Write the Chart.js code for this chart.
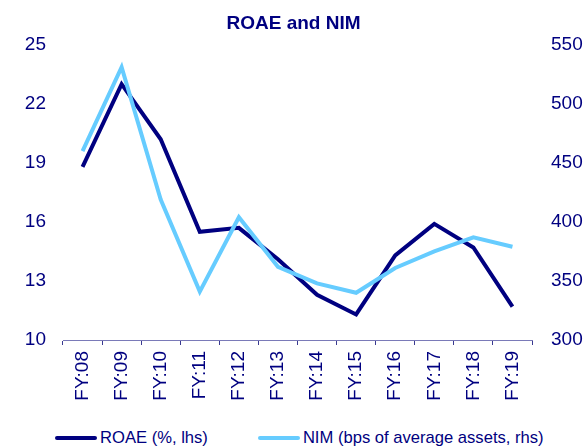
<!DOCTYPE html>
<html>
<head>
<meta charset="utf-8">
<script src="https://cdn.jsdelivr.net/npm/chart.js@4"></script>
<style>
  body { margin: 0; background: #fff; font-family: Arial, "Liberation Sans", sans-serif; }
  #wrap { position: relative; width: 587px; height: 422px; }
  #legend { position: absolute; top: 428px; left: 0; width: 587px; height: 20px;
            display: flex; align-items: center; padding-left: 55px; box-sizing: border-box;
            font-size: 16.6px; color: #000080; }
  .item { display: flex; align-items: center; }
  .swatch { width: 42px; height: 4px; margin-right: 3px; border-radius: 2px; }
</style>
</head>
<body>
<div id="wrap"><canvas id="chart"></canvas></div>
<div id="legend">
  <div class="item" style="margin-right:50px"><span class="swatch" style="background:#000080"></span><span>ROAE (%, lhs)</span></div>
  <div class="item"><span class="swatch" style="background:#66CCFF"></span><span>NIM (bps of average assets, rhs)</span></div>
</div>
<script>
const years = ["FY:08", "FY:09", "FY:10", "FY:11", "FY:12", "FY:13", "FY:14", "FY:15", "FY:16", "FY:17", "FY:18", "FY:19"]
const roae = [18.8, 23.0, 20.2, 15.5, 15.7, 14.1, 12.3, 11.3, 14.3, 15.9, 14.7, 11.7]
const nim = [460, 531, 419, 341, 404, 362, 348, 340, 361, 375, 387, 379]

const navy = "#000080"
const tickFont = { family: "Arial, 'Liberation Sans'", size: 19 }

const chart = new Chart(
    document.getElementById("chart"), {
    type: "line",
    data: {
        labels: years,
        datasets: [
            {
                label: "ROAE (%, lhs)",
                data: roae,
                yAxisID: "y",
                borderColor: navy,
                backgroundColor: navy,
                borderWidth: 4,
                pointRadius: 0,
                tension: 0,
                order: 2
            },
            {
                label: "NIM (bps of average assets, rhs)",
                data: nim,
                yAxisID: "y1",
                borderColor: "#66CCFF",
                backgroundColor: "#66CCFF",
                borderWidth: 4,
                pointRadius: 0,
                tension: 0,
                order: 1
            }
        ]
    },
    options: {
        responsive: true,
        maintainAspectRatio: false,
        animation: false,
        layout: { padding: 0 },
        plugins: {
            legend: { display: false },
            tooltip: { enabled: false },
            title: {
                display: true,
                text: "ROAE and NIM",
                color: navy,
                font: { family: "Arial, 'Liberation Sans'", size: 19, weight: "bold" },
                padding: { top: 12, bottom: 10 }
            }
        },
        scales: {
            x: {
                offset: true,
                grid: {
                    display: true,
                    drawOnChartArea: false,
                    offset: true,
                    tickLength: 5,
                    color: "#3a3a90"
                },
                border: { display: true, color: "#7a7ab8", width: 1 },
                ticks: {
                    color: navy,
                    font: tickFont,
                    minRotation: 90,
                    maxRotation: 90,
                    padding: 6,
                    autoSkip: false
                },
                afterFit: function (scale) { scale.height = 82 }
            },
            y: {
                position: "left",
                min: 10,
                max: 25,
                grid: { display: false },
                border: { display: false },
                ticks: { stepSize: 3, color: navy, font: tickFont, padding: 9 },
                afterFit: function (scale) { scale.width = 63 }
            },
            y1: {
                position: "right",
                min: 300,
                max: 550,
                grid: { display: false },
                border: { display: false },
                ticks: { stepSize: 50, color: navy, font: tickFont, padding: 11 },
                afterFit: function (scale) { scale.width = 55 }
            }
        }
    }
})
</script>
</body>
</html>
